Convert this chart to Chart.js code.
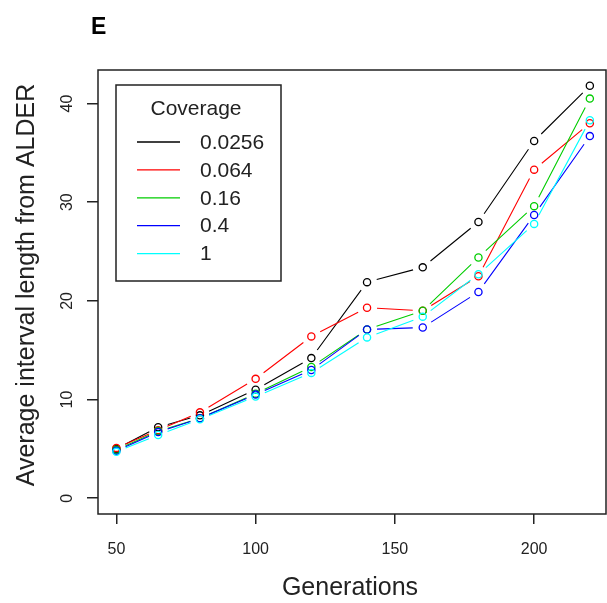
<!DOCTYPE html>
<html>
<head>
<meta charset="utf-8">
<script src="https://cdn.jsdelivr.net/npm/chart.js@4/dist/chart.umd.min.js"></script>
<style>
  html, body { margin: 0; padding: 0; background: #fff; }
  #chart { display: block; }
</style>
</head>
<body>
<canvas id="chart" width="607" height="603"></canvas>
<script>
const generations = [50, 65, 80, 100, 120, 140, 160, 180, 200, 220];
const coverageLabels = ['0.0256', '0.064', '0.16', '0.4', '1'];
const cov0256 = [5.0, 7.2, 8.4, 11.0, 14.2, 21.9, 23.4, 28.0, 36.2, 41.8];
const cov064 = [5.1, 6.9, 8.7, 12.1, 16.4, 19.3, 19.0, 22.5, 33.3, 38.0];
const cov16 = [4.9, 6.8, 8.1, 10.6, 13.3, 17.1, 19.0, 24.4, 29.6, 40.5];
const cov4 = [4.8, 6.7, 8.1, 10.5, 13.0, 17.1, 17.3, 20.9, 28.7, 36.7];
const cov1 = [4.7, 6.4, 8.0, 10.3, 12.7, 16.3, 18.4, 22.7, 27.8, 38.3];
const xTicks = [50, 100, 150, 200];
const yTicks = [0, 10, 20, 30, 40];

const seriesValues = [cov0256, cov064, cov16, cov4, cov1];
const colors = ['#000000', '#FF0000', '#00CD00', '#0000FF', '#00FFFF'];
const FONT = '"Liberation Sans", Arial, sans-serif';

const datasets = seriesValues.map((vals, i) => ({
  label: coverageLabels[i],
  data: generations.map((g, j) => ({ x: g, y: vals[j] })),
  borderColor: colors[i],
  backgroundColor: 'rgba(0,0,0,0)',
  showLine: false,
  pointStyle: 'circle',
  pointRadius: 3.6,
  pointBorderWidth: 1.3,
  order: seriesValues.length - i,
}));

// R-style "b" lines: segments stop short of each point
const gappedLines = {
  id: 'gappedLines',
  beforeDatasetsDraw(chart) {
    const ctx = chart.ctx;
    const gap = 10;
    ctx.save();
    ctx.lineWidth = 1.1;
    chart.data.datasets.forEach((ds, i) => {
      const pts = chart.getDatasetMeta(i).data;
      ctx.strokeStyle = ds.borderColor;
      ctx.beginPath();
      for (let k = 0; k < pts.length - 1; k++) {
        const a = pts[k], b = pts[k + 1];
        const dx = b.x - a.x, dy = b.y - a.y;
        const len = Math.hypot(dx, dy);
        if (len <= gap * 2) continue;
        const ux = dx / len, uy = dy / len;
        ctx.moveTo(a.x + ux * gap, a.y + uy * gap);
        ctx.lineTo(b.x - ux * gap, b.y - uy * gap);
      }
      ctx.stroke();
    });
    ctx.restore();
  },
};

const decorations = {
  id: 'decorations',
  afterDraw(chart) {
    const ctx = chart.ctx;
    const area = chart.chartArea;
    const yScale = chart.scales.y;
    ctx.save();

    // plot frame
    ctx.strokeStyle = '#222';
    ctx.lineWidth = 1.5;
    ctx.strokeRect(area.left, area.top, area.right - area.left, area.bottom - area.top);

    // rotated y tick labels
    ctx.fillStyle = '#222';
    ctx.font = '16px ' + FONT;
    ctx.textAlign = 'center';
    ctx.textBaseline = 'middle';
    yTicks.forEach(v => {
      ctx.save();
      ctx.translate(68, yScale.getPixelForValue(v));
      ctx.rotate(-Math.PI / 2);
      ctx.fillText(String(v), 0, 0);
      ctx.restore();
    });

    // axis titles
    ctx.font = '25px ' + FONT;
    ctx.fillText('Generations', 350, 588);
    ctx.save();
    ctx.translate(27, 285);
    ctx.rotate(-Math.PI / 2);
    ctx.fillText('Average interval length from ALDER', 0, 0);
    ctx.restore();

    // panel letter
    ctx.font = 'bold 23px ' + FONT;
    ctx.textAlign = 'left';
    ctx.fillStyle = '#000';
    ctx.fillText('E', 91, 28);

    // legend
    const lx = 116, ly = 85, lw = 165, lh = 196;
    ctx.strokeStyle = '#222';
    ctx.lineWidth = 1.5;
    ctx.strokeRect(lx, ly, lw, lh);
    ctx.font = '21px ' + FONT;
    ctx.fillStyle = '#222';
    ctx.textAlign = 'center';
    ctx.fillText('Coverage', 196, 109);
    ctx.textAlign = 'left';
    chart.data.datasets.forEach((ds, i) => {
      const y = 142 + i * 27.9;
      ctx.strokeStyle = ds.borderColor;
      ctx.lineWidth = 1.3;
      ctx.beginPath();
      ctx.moveTo(137, y);
      ctx.lineTo(180, y);
      ctx.stroke();
      ctx.fillStyle = '#222';
      ctx.fillText(ds.label, 200, y + 1);
    });

    ctx.restore();
  },
};

new Chart(document.getElementById('chart'), {
  type: 'scatter',
  data: { datasets },
  options: {
    responsive: false,
    animation: false,
    devicePixelRatio: 1,
    layout: { autoPadding: false, padding: { left: 0, top: 70, right: 1, bottom: 0 } },
    plugins: {
      legend: { display: false },
      tooltip: { enabled: false },
    },
    scales: {
      x: {
        type: 'linear',
        min: 43.4,
        max: 225.8,
        afterBuildTicks: s => { s.ticks = xTicks.map(v => ({ value: v })); },
        afterFit: s => {
          s.height = 89;
          s.paddingLeft = 0;
          s.paddingRight = 0;
        },
        border: { display: false },
        grid: { drawOnChartArea: false, drawTicks: true, tickLength: 10, color: '#222', lineWidth: 1.5 },
        ticks: { color: '#222', font: { family: FONT, size: 16 }, padding: 16, maxRotation: 0 },
      },
      y: {
        type: 'linear',
        min: -1.6,
        max: 43.4,
        afterBuildTicks: s => { s.ticks = yTicks.map(v => ({ value: v })); },
        afterFit: s => {
          s.width = 98;
          s.paddingTop = 0;
          s.paddingBottom = 0;
        },
        border: { display: false },
        grid: { drawOnChartArea: false, drawTicks: true, tickLength: 11, color: '#222', lineWidth: 1.5 },
        ticks: { display: false },
      },
    },
  },
  plugins: [gappedLines, decorations],
});
</script>
</body>
</html>
